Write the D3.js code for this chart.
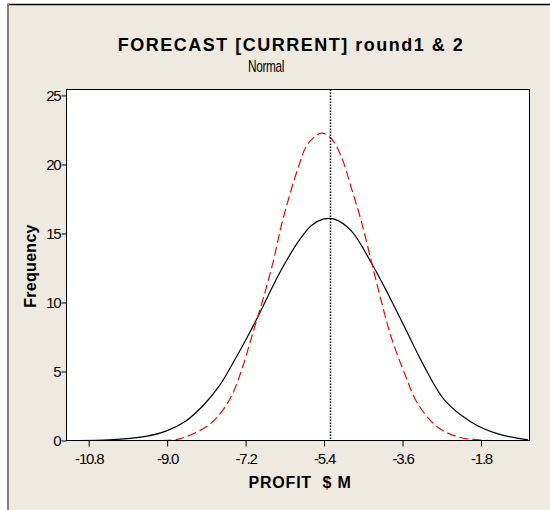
<!DOCTYPE html>
<html>
<head>
<meta charset="utf-8">
<script src="https://cdn.jsdelivr.net/npm/d3@7"></script>
<style>
  body { margin: 0; background: #fff; }
  svg { display: block; font-family: "Liberation Sans", Arial, sans-serif; }
</style>
</head>
<body>
<svg id="chart" width="550" height="510"></svg>
<script>
// values
const xTicks = [-10.8, -9.0, -7.2, -5.4, -3.6, -1.8]
const yTicks = [0, 5, 10, 15, 20, 25]

// round 1 (solid black)
const round1X = [-11.3, -10.33, -9.49, -9.03, -8.57, -8.19, -7.80, -7.50, -7.12, -6.81, -6.43, -6.00, -5.69, -5.42, -5.16, -4.78, -4.32, -3.93, -3.55, -3.09, -2.63, -2.02, -1.41, -0.72]
const round1Y = [0, 0.04, 0.3, 0.68, 1.42, 2.48, 3.98, 5.56, 7.73, 9.66, 12.08, 14.37, 15.58, 16.04, 16.04, 15.2, 12.9, 10.6, 8.2, 5.3, 2.9, 1.33, 0.48, 0.05]

// round 2 (red dashed)
const round2X = [-9.41, -8.72, -8.03, -7.73, -7.50, -7.27, -7.04, -6.81, -6.58, -6.35, -6.00, -5.77, -5.46, -5.23, -5.00, -4.78, -4.55, -4.32, -4.09, -3.86, -3.55, -3.25, -2.79, -2.25, -1.49]
const round2Y = [0, 0.12, 1.16, 2.17, 3.38, 5.31, 7.73, 10.14, 12.8, 15.94, 19.7, 21.5, 22.27, 21.86, 20.53, 18.36, 15.94, 13.04, 10.14, 7.49, 4.83, 2.66, 0.96, 0.2, 0]

const meanLine = -5.26

const svg = d3.select('#chart')
const W = 550, H = 510
const plot = {left: 66.5, right: 529.5, top: 89.5, bottom: 440.5}

// panel background + frame edges
svg.append('rect').attr('x', 7).attr('y', 4).attr('width', W - 7).attr('height', H - 4).attr('fill', '#eeeae0')
svg.append('line').attr('x1', 7).attr('x2', W).attr('y1', 4.5).attr('y2', 4.5).attr('stroke', '#000').attr('stroke-width', 1.5)
svg.append('line').attr('x1', 8).attr('x2', 8).attr('y1', 4).attr('y2', H).attr('stroke', '#808080').attr('stroke-width', 2)

const x = d3.scaleLinear().domain([-11.309, -0.687]).range([plot.left, plot.right])
const y = d3.scaleLinear().domain([0, 25.43]).range([plot.bottom, plot.top])

svg.append('rect')
    .attr('x', plot.left).attr('y', plot.top)
    .attr('width', plot.right - plot.left).attr('height', plot.bottom - plot.top)
    .attr('fill', '#fff')

svg.append('defs').append('clipPath').attr('id', 'clip')
  .append('rect')
    .attr('x', plot.left).attr('y', plot.top)
    .attr('width', plot.right - plot.left).attr('height', plot.bottom - plot.top)

const g = svg.append('g').attr('clip-path', 'url(#clip)')

const line = d3.line()
    .x(d => x(d[0]))
    .y(d => y(d[1]))
    .curve(d3.curveCatmullRom.alpha(0.5))

g.append('path')
    .datum(d3.zip(round1X, round1Y))
    .attr('d', line)
    .attr('fill', 'none')
    .attr('stroke', '#000')
    .attr('stroke-width', 1.2)

g.append('path')
    .datum(d3.zip(round2X, round2Y))
    .attr('d', line)
    .attr('fill', 'none')
    .attr('stroke', '#ff0000')
    .attr('stroke-width', 1.2)
    .attr('stroke-dasharray', '9,4')

g.append('line')
    .attr('x1', Math.round(x(meanLine)) + 0.5).attr('x2', Math.round(x(meanLine)) + 0.5)
    .attr('y1', plot.top).attr('y2', plot.bottom)
    .attr('stroke', '#000')
    .attr('stroke-width', 1.6)
    .attr('stroke-dasharray', '1.5,1.5')

// frame
svg.append('rect')
    .attr('x', plot.left).attr('y', plot.top)
    .attr('width', plot.right - plot.left).attr('height', plot.bottom - plot.top)
    .attr('fill', 'none').attr('stroke', '#000')

// axes
const xAxis = svg.append('g')
    .attr('transform', `translate(0,${plot.bottom})`)
    .call(d3.axisBottom(x).tickValues(xTicks).tickSize(6).tickPadding(7).tickFormat(d => d.toFixed(1)))
const yAxis = svg.append('g')
    .attr('transform', `translate(${plot.left},0)`)
    .call(d3.axisLeft(y).tickValues(yTicks).tickSize(5).tickPadding(1))

for (const ax of [xAxis, yAxis]) {
    ax.select('.domain').remove()
    ax.selectAll('line').attr('stroke', '#000')
    ax.selectAll('text')
        .attr('fill', '#000')
        .style('font-size', '15px')
        .style('letter-spacing', '-1.2px')
        .style('font-family', '"Liberation Sans", Arial, sans-serif')
}
yAxis.selectAll('text').attr('dy', '0.36em')

// titles
svg.append('text')
    .attr('x', 291).attr('y', 51)
    .attr('text-anchor', 'middle')
    .style('font-size', '18px').style('font-weight', 'bold')
    .style('letter-spacing', '1.5px')
    .text('FORECAST [CURRENT] round1 & 2')

svg.append('text')
    .attr('transform', 'translate(266,72) scale(0.74,1)')
    .attr('text-anchor', 'middle')
    .style('font-size', '16px')
    .style('letter-spacing', '-0.5px')
    .text('Normal')

svg.append('text')
    .attr('x', 300).attr('y', 488)
    .attr('text-anchor', 'middle')
    .style('font-size', '16px').style('font-weight', 'bold')
    .style('letter-spacing', '0.8px')
    .attr('xml:space', 'preserve')
    .text('PROFIT  $ M')

svg.append('text')
    .attr('transform', 'translate(36,266) rotate(-90)')
    .attr('text-anchor', 'middle')
    .style('font-size', '16px').style('font-weight', 'bold')
    .style('letter-spacing', '0.3px')
    .text('Frequency')
</script>
</body>
</html>
